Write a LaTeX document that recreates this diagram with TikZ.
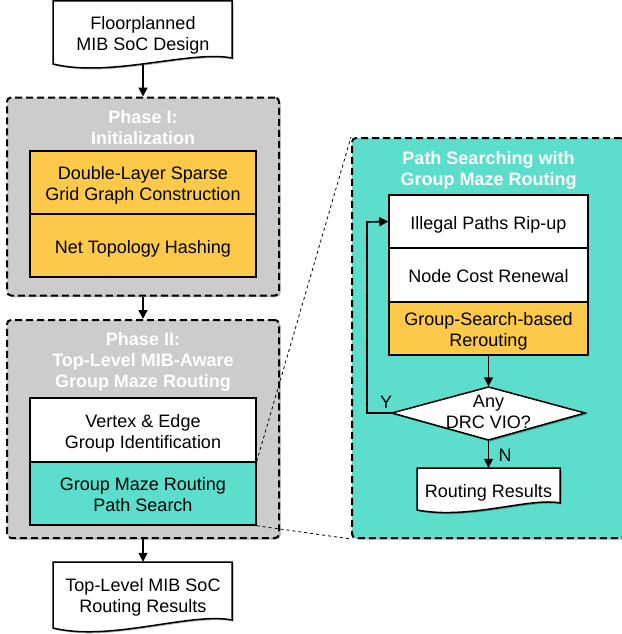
\documentclass[tikz,border=0pt]{standalone}
\usepackage{fontspec}
\setmainfont{Liberation Sans}
\usetikzlibrary{arrows.meta,shadows}
\definecolor{grayfill}{HTML}{CCCCCC}
\definecolor{yel}{HTML}{FCC94B}
\definecolor{tealf}{HTML}{5DDDCB}
\newcommand\mystrA{\rule{0pt}{20pt}}
\newcommand\mystrB{\rule[-5pt]{0pt}{5pt}}
\begin{document}
\begin{tikzpicture}[x=1pt,y=-1pt,
  font=\fontsize{18}{21}\selectfont,
  shad/.style={drop shadow={shadow xshift=1.5pt,shadow yshift=-1.5pt,opacity=0.3,fill=black}},
  phase/.style={draw, dash pattern=on 7pt off 4pt, line width=2pt, rounded corners=4pt, inner sep=0pt, shad},
  blk/.style={draw, line width=1.5pt, align=center, inner sep=0pt},
  arr/.style={line width=1.6pt, -{Triangle[length=9pt,width=9pt]}},
  ttl/.style={text=white, font=\fontsize{18}{21}\selectfont\bfseries, align=center, inner sep=0pt},
  doc/.style={draw, line width=1.5pt, fill=white, shad},
  lbl/.style={inner sep=0pt, align=center}]
\useasboundingbox (0,0) rectangle (621,634);

% ---- top document
\draw[doc] (53,1) -- (232,1) -- (232,58) .. controls (190,50) and (110,78) .. (53,64) -- cycle;
\node[lbl, minimum width=179pt, minimum height=63pt] (d1) at (143,32.5) {\mystrA Floorplanned\\MIB SoC Design\mystrB};

% ---- Phase I
\node[phase, fill=grayfill, minimum width=272pt, minimum height=198pt] (p1) at (143,196.5) {};
\node[ttl] (t1) at (143,126.5) {\mystrA Phase I:\\Initialization\mystrB};
\node[blk, fill=yel, minimum width=226pt, minimum height=63pt] (a1) at (143,182.5) {\mystrA Double-Layer Sparse\\Grid Graph Construction\mystrB};
\node[blk, fill=yel, minimum width=226pt, minimum height=63pt] (a2) at (143,245.5) {\mystrA Net Topology Hashing\mystrB};

% ---- Phase II
\node[phase, fill=grayfill, minimum width=272pt, minimum height=218pt] (p2) at (143,429) {};
\node[ttl] (t2) at (143,359) {\mystrA Phase II:\\Top-Level MIB-Aware\\Group Maze Routing\mystrB};
\node[blk, fill=white, minimum width=226pt, minimum height=64pt] (b1) at (143,430) {\mystrA Vertex \& Edge\\Group Identification\mystrB};
\node[blk, fill=tealf, minimum width=226pt, minimum height=63pt] (b2) at (143,493.5) {\mystrA Group Maze Routing\\Path Search\mystrB};

% ---- bottom document
\draw[doc] (53,562) -- (232,562) -- (232,620) .. controls (190,612) and (110,642) .. (53,628) -- cycle;
\node[lbl, minimum width=179pt, minimum height=65pt] (d2) at (143,594.5) {\mystrA Top-Level MIB SoC\\Routing Results\mystrB};

% ---- right detail box
\node[phase, fill=tealf, minimum width=273pt, minimum height=400pt] (rb) at (488.5,338) {};
\node[ttl] (t3) at (488.5,167.5) {\mystrA Path Searching with\\Group Maze Routing\mystrB};
\node[blk, fill=white, minimum width=199pt, minimum height=53pt] (c1) at (488.5,221.5) {\mystrA Illegal Paths Rip-up\mystrB};
\node[blk, fill=white, minimum width=199pt, minimum height=54pt] (c2) at (488.5,275) {\mystrA Node Cost Renewal\mystrB};
\node[blk, fill=yel, minimum width=199pt, minimum height=53pt] (c3) at (488.5,328.5) {\mystrA Group-Search-based\\Rerouting\mystrB};

\draw[line width=1.5pt, fill=white, shad] (392,413) -- (488.5,387) -- (585,413) -- (488.5,440) -- cycle;
\node[inner sep=0pt, minimum width=193pt, minimum height=53pt] (dd) at (488.5,413) {};
\node[lbl] (ddt) at (488.5,410) {\mystrA Any\\DRC VIO?\mystrB};

\draw[doc] (417,468) -- (560,468) -- (560,503) .. controls (530,497) and (470,520) .. (417,510) -- cycle;
\node[lbl, minimum width=143pt, minimum height=44pt] (d3) at (488.5,490) {\mystrA Routing Results\mystrB};

\coordinate (lp) at (367,222);

% ---- connectors
\draw[arr] (d1.south) -- (p1.north);
\draw[arr] (p1.south) -- (p2.north);
\draw[arr] (p2.south) -- (d2.north);
\draw[arr] (c3.south) -- (dd.north);
\draw[arr] (dd.south) -- (d3.north);
\node[inner sep=0pt] (nl) at (505,455) {N};
\draw[arr] (dd.west) -| (lp) -- (c1.west);
\node[inner sep=0pt] (yl) at (386,402) {Y};

\draw[dashed, line width=0.8pt] (b2.north east) -- (rb.north west);
\draw[dashed, line width=0.8pt] (b2.south east) -- (rb.south west);
\end{tikzpicture}
\end{document}
